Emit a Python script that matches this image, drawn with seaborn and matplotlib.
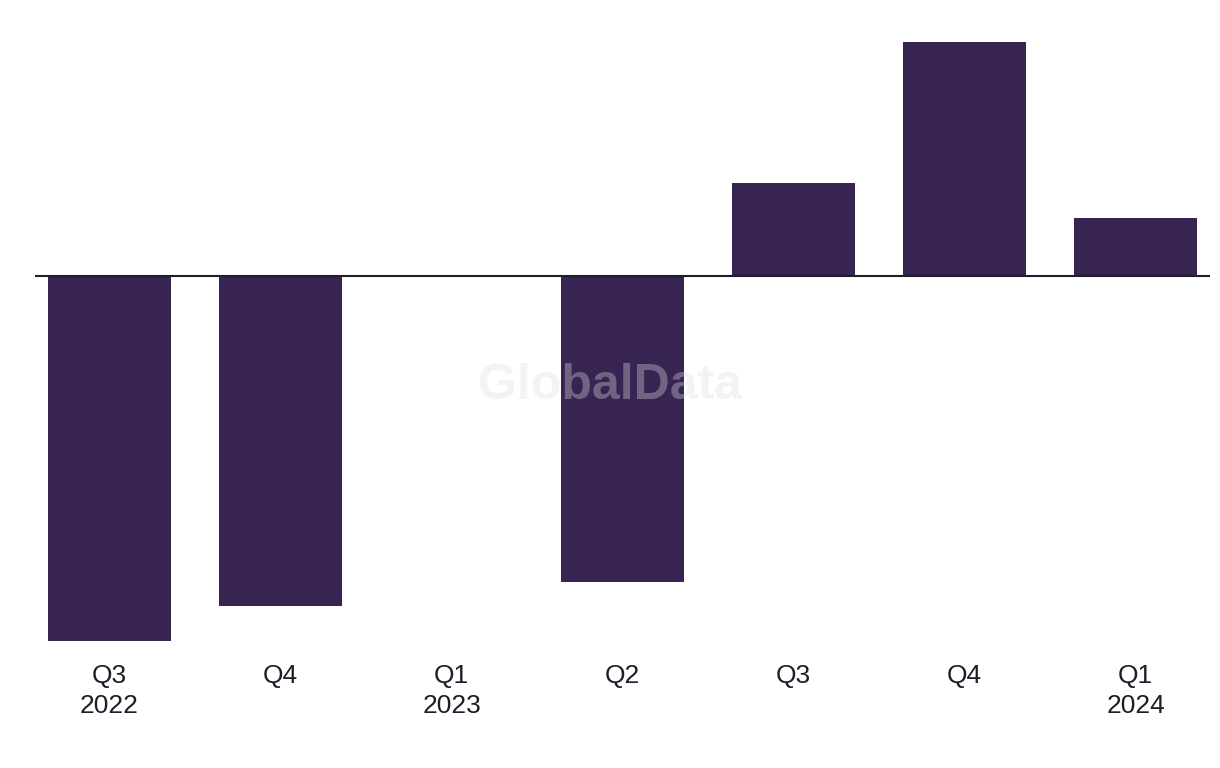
import matplotlib
matplotlib.use("Agg")
from matplotlib import pyplot as plt
import seaborn as sns
import pandas as pd

# quarter labels and values (relative units)
quarters = ["Q3\n2022", "Q4", "Q1\n2023", "Q2", "Q3", "Q4", "Q1\n2024"]
values = [-36.5, -33.0, 0.0, -30.6, 9.3, 23.4, 5.8]

# labels repeat (Q3, Q4), so key the bars on position
df = pd.DataFrame({"pos": range(len(quarters)), "value": values})

sns.set_theme(style="white")
plt.rcParams["font.family"] = ["Liberation Sans", "DejaVu Sans"]

fig = plt.figure(figsize=(12.2, 7.68), dpi=100)
ax = fig.add_axes([35 / 1220, 1 - 650 / 768, 1175 / 1220, 620 / 768])

sns.barplot(data=df, x="pos", y="value", color="#372452", width=0.72,
            saturation=1, errorbar=None, linewidth=0, ax=ax)

ax.set_xlim(-0.436, 6.435)
# zero line at y=276px, axes top 30px, bottom 650px
ax.set_ylim(-37.4, 24.6)
ax.axhline(0, color="#1e1e2a", lw=1.5, zorder=5)

for s in ax.spines.values():
    s.set_visible(False)
ax.set_yticks([])
ax.set_xticks(range(len(quarters)))
ax.set_xticklabels(quarters, linespacing=1.32)
ax.set_xlabel("")
ax.set_ylabel("")
ax.tick_params(axis="x", length=0, pad=10, labelsize=19, labelcolor="#1e1e2a")

# watermark
fig.text(0.5, 1 - 386 / 768, "GlobalData", ha="center", va="center",
         fontsize=36, fontweight="bold", color="#dddddd", alpha=0.35, zorder=10)

fig.savefig("out.png", dpi=100)
plt.close(fig)
